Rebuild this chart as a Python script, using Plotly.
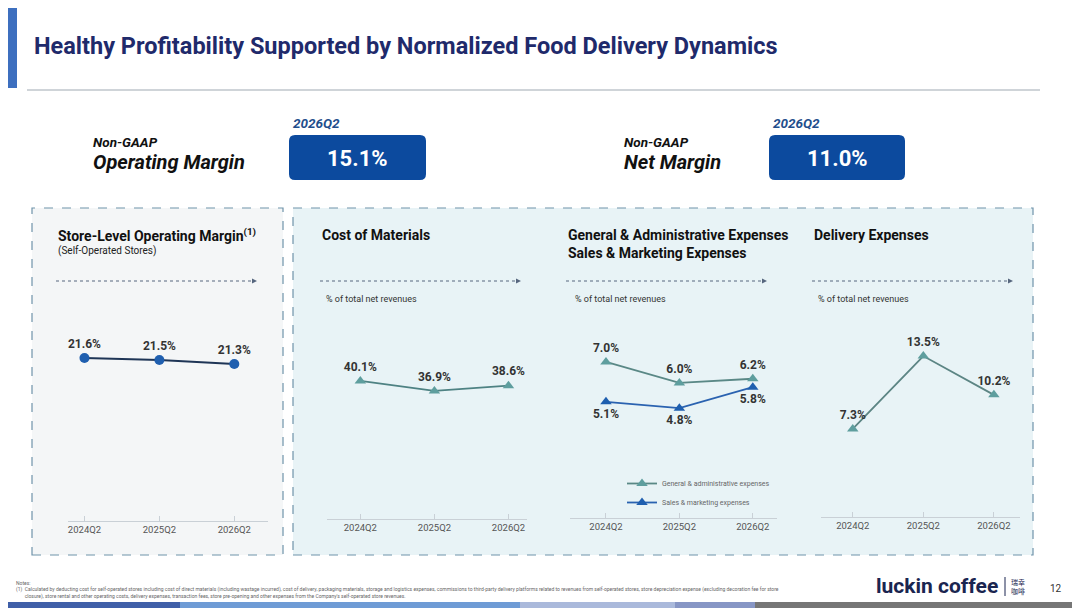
import plotly.graph_objects as go

# the page body adds an 8px margin, so the figure is drawn 8px smaller and shifted
OFF = 8
W, H = 1080 - OFF, 608 - OFF

# data
quarters = ["2024Q2", "2025Q2", "2026Q2"]
store_margin = [21.6, 21.5, 21.3]
cost_materials = [40.1, 36.9, 38.6]
ga_expenses = [7.0, 6.0, 6.2]
sm_expenses = [5.1, 4.8, 5.8]
delivery_expenses = [7.3, 13.5, 10.2]
op_margin_kpi = "15.1%"
net_margin_kpi = "11.0%"

FONT = "Roboto"
NAVY = "#1F2A6B"
BLUE = "#1F5FAF"
TEAL = "#5E9E9E"


def px(x):
    return (x - OFF) / W


def py(y):
    return 1 - (y - OFF) / H


fig = go.Figure()

# panel geometry (slide pixels): plot x extent, top, axis line y, x range, y range
panels = [
    dict(x0=68, x1=268, top=300, bot=521, xr=[-0.22, 2.45], yr=[13.45, 24.5]),
    dict(x0=327, x1=527, top=300, bot=519, xr=[-0.45, 2.25], yr=[-4.06, 66.0]),
    dict(x0=570, x1=777, top=300, bot=518, xr=[-0.49, 2.33], yr=[-0.43, 9.95]),
    dict(x0=821, x1=1020, top=300, bot=517, xr=[-0.45, 2.37], yr=[-0.18, 18.26]),
]

axes = {}
for i, p in enumerate(panels):
    n = "" if i == 0 else str(i + 1)
    axes["xaxis" + n] = dict(
        domain=[px(p["x0"]), px(p["x1"])], anchor="y" + n, type="category",
        range=p["xr"], showline=True, linecolor="#C9D0D6", linewidth=1,
        ticks="inside", ticklen=5, tickcolor="#C9D0D6", showgrid=False,
        zeroline=False, tickfont=dict(family=FONT, size=9.5, color="#555"),
        fixedrange=True,
    )
    axes["yaxis" + n] = dict(
        domain=[py(p["bot"]), py(p["top"])], anchor="x" + n, range=p["yr"],
        visible=False, fixedrange=True,
    )


def series(vals, ax, color, line_color, symbol, textpos, name=None, legend=False, size=10):
    fig.add_trace(go.Scatter(
        x=quarters, y=vals, xaxis="x" + ax, yaxis="y" + ax,
        mode="lines+markers+text", name=name, showlegend=legend,
        line=dict(color=line_color, width=1.8),
        marker=dict(color=color, size=size, symbol=symbol),
        texttemplate="<b>%{y:.1f}%</b>", textposition=textpos,
        textfont=dict(family=FONT, size=12, color="#333"),
        cliponaxis=False, hoverinfo="skip",
    ))


series(store_margin, "", BLUE, "#1E3556", "circle", "top center")
series(cost_materials, "2", TEAL, "#4E8283", "triangle-up", "top center")
series(ga_expenses, "3", TEAL, "#5A8886", "triangle-up", "top center",
       name="General & administrative expenses", legend=True)
series(sm_expenses, "3", BLUE, "#2A62B0", "triangle-up", "bottom center",
       name="Sales & marketing expenses", legend=True)
series(delivery_expenses, "4", TEAL, "#5C8584", "triangle-up", "top center")

shapes = []
ann = []

# left accent bar, title rule
shapes.append(dict(type="rect", xref="paper", yref="paper", x0=px(5), x1=px(17),
                   y0=py(88), y1=py(5), fillcolor="#3D6FBF", line_width=0))
shapes.append(dict(type="line", xref="paper", yref="paper", x0=px(27), x1=px(1040),
                   y0=py(90), y1=py(90), line=dict(color="#9FA9B2", width=1)))
ann.append(dict(text="<b>Healthy Profitability Supported by Normalized Food Delivery Dynamics</b>",
                x=px(32), y=py(46), xanchor="left", yanchor="middle",
                font=dict(family=FONT, size=23.5, color=NAVY)))


# KPI boxes
def rounded(x0, y0, x1, y1, r):
    X = lambda v: px(v)
    Y = lambda v: py(v)
    return (f"M {X(x0 + r)},{Y(y0)} L {X(x1 - r)},{Y(y0)} Q {X(x1)},{Y(y0)} {X(x1)},{Y(y0 + r)} "
            f"L {X(x1)},{Y(y1 - r)} Q {X(x1)},{Y(y1)} {X(x1 - r)},{Y(y1)} "
            f"L {X(x0 + r)},{Y(y1)} Q {X(x0)},{Y(y1)} {X(x0)},{Y(y1 - r)} "
            f"L {X(x0)},{Y(y0 + r)} Q {X(x0)},{Y(y0)} {X(x0 + r)},{Y(y0)} Z")


for lx, bx0, bx1, label, val in [(91, 289, 426, "Operating Margin", op_margin_kpi),
                                 (622, 769, 905, "Net Margin", net_margin_kpi)]:
    ann.append(dict(text="<b><i>Non-GAAP</i></b>", x=px(lx), y=py(142), xanchor="left",
                    yanchor="middle", font=dict(family=FONT, size=13.5, color="#111")))
    ann.append(dict(text=f"<b><i>{label}</i></b>", x=px(lx), y=py(162), xanchor="left",
                    yanchor="middle", font=dict(family=FONT, size=20, color="#111")))
    ann.append(dict(text="<b><i>2026Q2</i></b>", x=px(bx0 + 2), y=py(123), xanchor="left",
                    yanchor="middle", font=dict(family=FONT, size=13.5, color="#1F4E8C")))
    shapes.append(dict(type="path", xref="paper", yref="paper",
                       path=rounded(bx0, 135, bx1, 180, 6), fillcolor="#0C4A9E", line_width=0))
    ann.append(dict(text=f"<b>{val}</b>", x=px((bx0 + bx1) / 2), y=py(158), xanchor="center",
                    yanchor="middle", font=dict(family=FONT, size=22, color="white")))

# dashed panel frames
shapes.append(dict(type="rect", xref="paper", yref="paper", x0=px(32), x1=px(283),
                   y0=py(555), y1=py(208), fillcolor="#F4F6F7", layer="below",
                   line=dict(color="#6F93AA", width=1.2, dash="dash")))
shapes.append(dict(type="rect", xref="paper", yref="paper", x0=px(293), x1=px(1033),
                   y0=py(555), y1=py(208), fillcolor="#E8F3F6", layer="below",
                   line=dict(color="#6F93AA", width=1.2, dash="dash")))

# panel headers
headers = [
    (56, ["Store-Level Operating Margin<sup>(1)</sup>"], "(Self-Operated Stores)", None),
    (320, ["Cost of Materials"], None, 324),
    (566, ["General & Administrative Expenses", "Sales & Marketing Expenses"], None, 573),
    (812, ["Delivery Expenses"], None, 816),
]
for hx, lines, sub, pct_x in headers:
    for k, t in enumerate(lines):
        ann.append(dict(text=f"<b>{t}</b>", x=px(hx), y=py(235 + 18 * k), xanchor="left",
                        yanchor="middle", font=dict(family=FONT, size=14, color="#111")))
    if sub:
        ann.append(dict(text=sub, x=px(hx), y=py(251), xanchor="left", yanchor="middle",
                        font=dict(family=FONT, size=10, color="#222")))
    shapes.append(dict(type="line", xref="paper", yref="paper", x0=px(hx), x1=px(hx + 198),
                       y0=py(281), y1=py(281), line=dict(color="#56667E", width=1, dash="dot")))
    ax_ = hx + 201
    shapes.append(dict(type="path", xref="paper", yref="paper", fillcolor="#56667E", line_width=0,
                       path=f"M {px(ax_ - 5)},{py(278.5)} L {px(ax_)},{py(281)} L {px(ax_ - 5)},{py(283.5)} Z"))
    if pct_x:
        ann.append(dict(text="% of total net revenues", x=px(pct_x), y=py(299), xanchor="left",
                        yanchor="middle", font=dict(family=FONT, size=9, color="#333")))

# footnote
note = ("(1)  Calculated by deducting cost for self-operated stores including cost of direct materials (including wastage incurred), "
        "cost of delivery, packaging materials, storage and logistics expenses, commissions to third-party delivery platforms related to "
        "revenues from self-operated stores, store depreciation expense (excluding decoration fee for store<br>"
        "       closure), store rental and other operating costs, delivery expenses, transaction fees, store pre-opening and other expenses "
        "from the Company's self-operated store revenues.")
ann.append(dict(text="Notes:", x=px(14), y=py(583), xanchor="left", yanchor="middle",
                font=dict(family=FONT, size=5, color="#666")))
ann.append(dict(text=note, x=px(14), y=py(593), xanchor="left", yanchor="middle", align="left",
                font=dict(family=FONT, size=5, color="#666")))

# logo + page number
ann.append(dict(text="<b>luckin coffee</b>", x=px(1000), y=py(586), xanchor="right",
                yanchor="middle", font=dict(family=FONT, size=21, color="#1A2550")))
shapes.append(dict(type="line", xref="paper", yref="paper", x0=px(1005), x1=px(1005),
                   y0=py(596), y1=py(577), line=dict(color="#1A2550", width=1)))
ann.append(dict(text="瑞幸<br>咖啡", x=px(1009), y=py(586), xanchor="left", yanchor="middle",
                font=dict(family="Noto Sans CJK SC", size=7, color="#1A2550")))
ann.append(dict(text="12", x=px(1056), y=py(588), xanchor="center", yanchor="middle",
                font=dict(family=FONT, size=10, color="#333")))

# bottom colour stripe
for sx0, sx1, col in [(0, 180, "#3F5FA8"), (180, 520, "#6E9BD5"), (520, 675, "#AAB9DB"),
                      (675, 755, "#8796C5"), (755, 1080, "#767676")]:
    shapes.append(dict(type="rect", xref="paper", yref="paper", x0=px(sx0), x1=px(sx1),
                       y0=0, y1=py(602), fillcolor=col, line_width=0))

for a in ann:
    a.setdefault("showarrow", False)
    a.setdefault("xref", "paper")
    a.setdefault("yref", "paper")

fig.update_layout(
    width=W, height=H, margin=dict(l=0, r=0, t=0, b=0),
    paper_bgcolor="white", plot_bgcolor="rgba(0,0,0,0)",
    shapes=shapes, annotations=ann,
    legend=dict(x=px(622), y=py(469), xanchor="left", yanchor="top",
                font=dict(family=FONT, size=7, color="#666"), bgcolor="rgba(0,0,0,0)",
                itemwidth=30, tracegroupgap=0),
    font=dict(family=FONT),
    **axes,
)

fig.write_html("out.html")
